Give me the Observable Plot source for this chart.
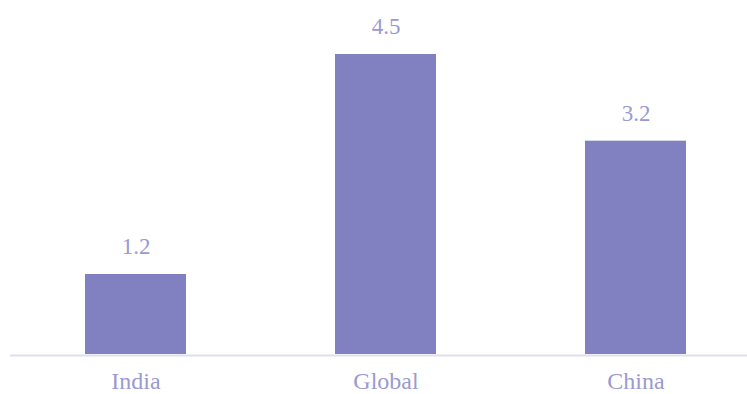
<!DOCTYPE html>
<html>
<head>
<meta charset="utf-8">
<script src="https://cdn.jsdelivr.net/npm/d3@7"></script>
<script src="https://cdn.jsdelivr.net/npm/@observablehq/plot@0.6"></script>
<style>
  html, body { margin: 0; padding: 0; background: #fff; }
  #chart { width: 747px; height: 394px; }
</style>
</head>
<body>
<div id="chart"></div>
<script>
const regions = ["India", "Global", "China"];
const values = [1.2, 4.5, 3.2];

const data = regions.map((region, i) => ({region, value: values[i]}));

const barColor = "#8181c1";
const textColor = "#9a9ad2";
const font = "'Liberation Serif', 'Times New Roman', serif";

const chart = Plot.plot({
  width: 747,
  height: 394,
  marginTop: 54,
  marginBottom: 40,
  marginLeft: 10,
  marginRight: 0,
  style: {fontFamily: font, background: "#fff"},
  x: {domain: regions, range: [10.5, 760.5], paddingInner: 0.596, paddingOuter: 0.298, label: null},
  y: {domain: [0, 4.5], axis: null},
  marks: [
    Plot.barY(data, {x: "region", y: "value", fill: barColor}),
    Plot.ruleY([0], {stroke: "#e2def0", strokeWidth: 2, dy: 1}),
    Plot.text(data, {x: "region", y: "value", text: d => d.value.toFixed(1), dy: -28, fill: textColor, fontSize: 23}),
    Plot.axisX({tickSize: 0, tickPadding: 17, fontSize: 24, color: textColor, label: null})
  ]
});

document.getElementById("chart").append(chart);
</script>
</body>
</html>
